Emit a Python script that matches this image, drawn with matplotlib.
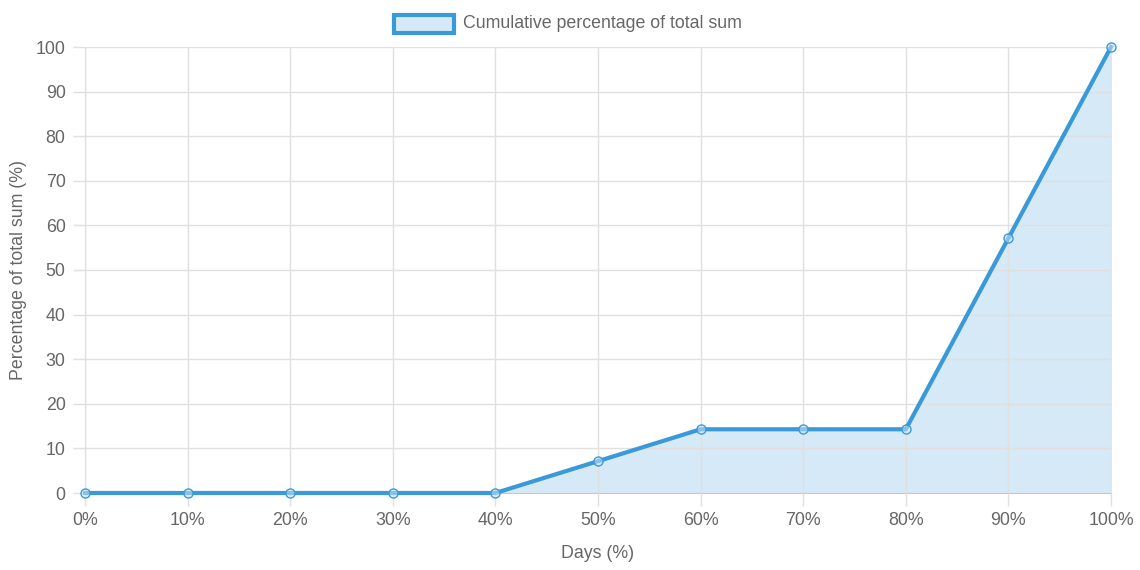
import matplotlib.pyplot as plt
from matplotlib.patches import Rectangle

# Data
days_pct = [0, 10, 20, 30, 40, 50, 60, 70, 80, 90, 100]
cum_pct = [0, 0, 0, 0, 0, 7.14, 14.29, 14.29, 14.29, 57.14, 100]
x_labels = [f"{d}%" for d in days_pct]
y_ticks = list(range(0, 101, 10))

line_color = '#3a9ad9'
fill_color = '#d6e9f7'
text_color = '#666666'
grid_color = '#e0e0e0'

plt.rcParams['font.family'] = ['Liberation Sans', 'DejaVu Sans']

fig = plt.figure(figsize=(11.4, 5.7), dpi=100)
ax = fig.add_axes([85 / 1140, 1 - 493 / 570, 1026 / 1140, 446 / 570])

ax.fill_between(days_pct, cum_pct, 0, color=fill_color, zorder=1)
ax.plot(days_pct, cum_pct, color=line_color, linewidth=3, zorder=3,
        marker='o', markersize=6.5, markerfacecolor=fill_color + '80',
        markeredgecolor=line_color, markeredgewidth=1, clip_on=False)

ax.set_xlim(0, 100)
ax.set_ylim(0, 100)
ax.set_xticks(days_pct)
ax.set_xticklabels(x_labels)
ax.set_yticks(y_ticks)

ax.grid(True, color=grid_color, linewidth=1, zorder=2)
ax.set_axisbelow(False)
ax.tick_params(axis='both', colors=grid_color, labelcolor=text_color,
               labelsize=12.8, length=9, width=1, pad=5)
for name, sp in ax.spines.items():
    if name in ('left', 'bottom'):
        sp.set_color('#c8c8c8')
    else:
        sp.set_visible(False)

ax.set_xlabel('Days (%)', color=text_color, fontsize=12.8, labelpad=11)
ax.set_ylabel('Percentage of total sum (%)', color=text_color, fontsize=12.8, labelpad=6)

# legend drawn like the Chart.js box
fig.patches.append(Rectangle((394 / 1140, 1 - 33 / 570), 60 / 1140, 18 / 570,
                             transform=fig.transFigure, facecolor=fill_color,
                             edgecolor=line_color, linewidth=3))
fig.text(463 / 1140, 1 - 23 / 570, 'Cumulative percentage of total sum',
         color=text_color, fontsize=12.8, va='center', ha='left')

fig.savefig('out.png', dpi=100)
